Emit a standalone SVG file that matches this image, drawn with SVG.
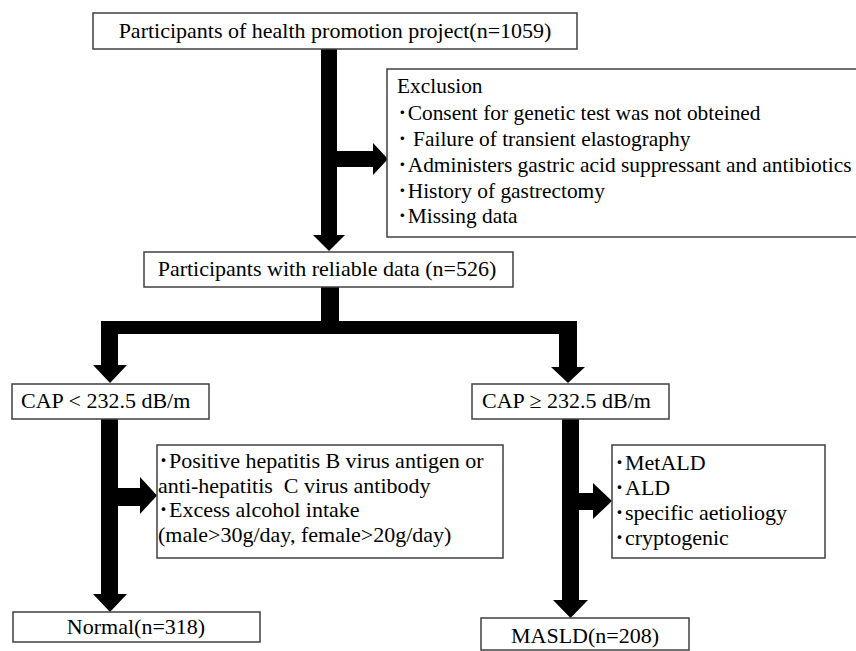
<svg xmlns="http://www.w3.org/2000/svg" width="856" height="651" viewBox="0 0 856 651">
<style>
.box{fill:#fff;stroke:#404040;stroke-width:1.5}
.t{font-family:"Liberation Serif","Noto Sans CJK JP",serif;font-size:22px;fill:#000}
.s{font-size:21.4px}
.c{text-anchor:middle}
.arr{fill:#000;stroke:none}
</style>
<rect width="856" height="651" fill="#fff"/>
<g id="connectors">
<rect class="arr" x="321" y="49" width="16" height="187"/>
<polygon class="arr" points="313,235 345,235 329,251"/>
<rect class="arr" x="336" y="151" width="38" height="16"/>
<polygon class="arr" points="373,143 373,175 388,159"/>
<rect class="arr" x="321" y="287" width="18" height="35"/>
<rect class="arr" x="101" y="321" width="476" height="13"/>
<rect class="arr" x="101" y="333" width="17" height="33"/>
<polygon class="arr" points="93,365 127,365 110,383"/>
<rect class="arr" x="559" y="333" width="18" height="35"/>
<polygon class="arr" points="551,367 585,367 568,383"/>
<rect class="arr" x="101" y="419" width="17" height="176"/>
<polygon class="arr" points="93,594 127,594 110,612"/>
<rect class="arr" x="117" y="488" width="24" height="18"/>
<polygon class="arr" points="140,477 140,514 157,495.5"/>
<rect class="arr" x="562" y="419" width="17" height="182"/>
<polygon class="arr" points="553,600 588,600 570.5,618"/>
<rect class="arr" x="578" y="493" width="16" height="17"/>
<polygon class="arr" points="593,483 593,519 612,501"/>
</g>
<g id="n_top">
<rect class="box" x="93" y="13" width="484" height="36"/>
<text class="t c" x="335" y="38">Participants of health promotion project(n=1059)</text>
</g>
<g id="n_exclusion">
<rect class="box" x="387" y="69" width="480" height="168"/>
<text class="t s" x="397" y="93">Exclusion</text>
<text class="t s" x="397" y="120">･Consent for genetic test was not obteined</text>
<text class="t s" x="397" y="146" xml:space="preserve">･ Failure of transient elastography</text>
<text class="t s" x="397" y="172">･Administers gastric acid suppressant and antibiotics</text>
<text class="t s" x="397" y="198">･History of gastrectomy</text>
<text class="t s" x="397" y="223">･Missing data</text>
</g>
<g id="n_reliable">
<rect class="box" x="144" y="252" width="369" height="35"/>
<text class="t c" x="327" y="276">Participants with reliable data (n=526)</text>
</g>
<g id="n_cap_low">
<rect class="box" x="12" y="384" width="197" height="35"/>
<text class="t" x="21" y="408">CAP &lt; 232.5 dB/m</text>
</g>
<g id="n_cap_high">
<rect class="box" x="472" y="384" width="197" height="35"/>
<text class="t" x="482" y="408">CAP ≥ 232.5 dB/m</text>
</g>
<g id="n_excl_left">
<rect class="box" x="157" y="445" width="346" height="113"/>
<text class="t" x="158" y="468">･Positive hepatitis B virus antigen or</text>
<text class="t" x="158" y="492.5" xml:space="preserve">anti-hepatitis  C virus antibody</text>
<text class="t" x="158" y="517">･Excess alcohol intake</text>
<text class="t" x="158" y="541.5">(male&gt;30g/day, female&gt;20g/day)</text>
</g>
<g id="n_excl_right">
<rect class="box" x="612" y="445" width="213" height="113"/>
<text class="t" x="614" y="470">･MetALD</text>
<text class="t" x="614" y="495">･ALD</text>
<text class="t" x="614" y="520">･specific aetioliogy</text>
<text class="t" x="614" y="545">･cryptogenic</text>
</g>
<g id="n_normal">
<rect class="box" x="13" y="612" width="247" height="30"/>
<text class="t c" x="136" y="634">Normal(n=318)</text>
</g>
<g id="n_masld">
<rect class="box" x="481" y="618" width="208" height="32"/>
<text class="t c" x="585" y="643">MASLD(n=208)</text>
</g>
</svg>
